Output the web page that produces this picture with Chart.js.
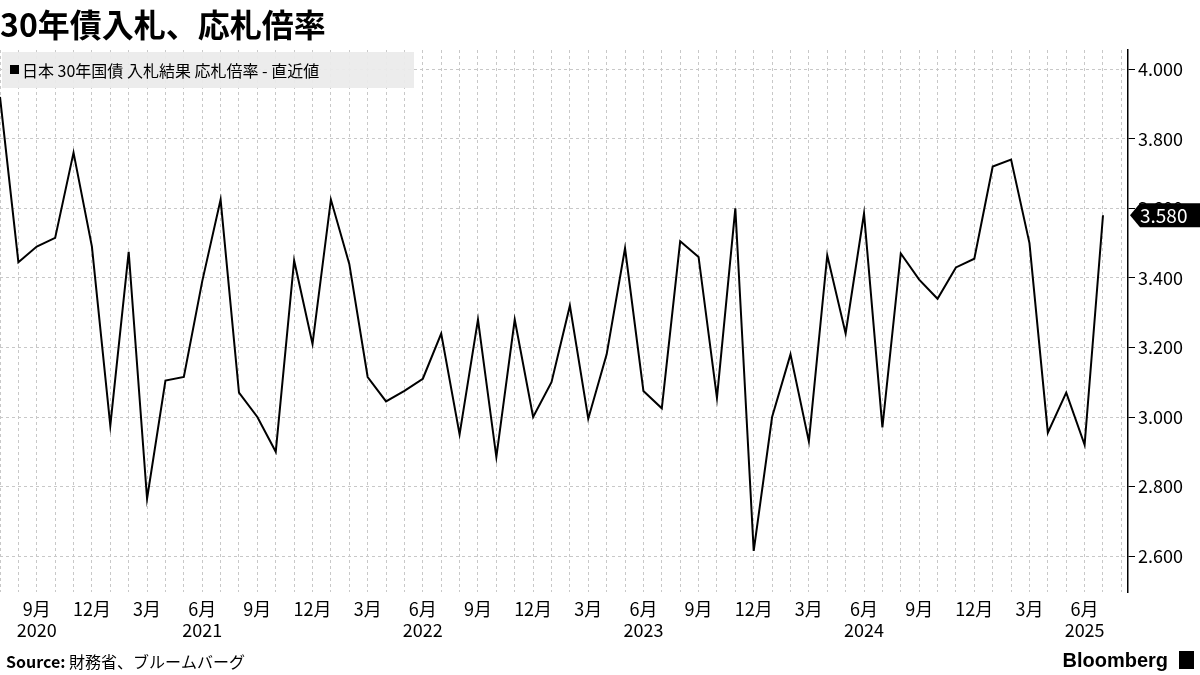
<!DOCTYPE html>
<html><head><meta charset="utf-8">
<script src="https://cdn.jsdelivr.net/npm/chart.js@4"></script>
<style>html,body{margin:0;padding:0;background:#fff}#w{width:1200px;height:675px}</style>
</head><body><div id="w"><canvas id="c"></canvas></div>
<script>
const startYear = 2020, startMonth = 7;
const bidToCover = [3.92,3.445,3.49,3.515,3.76,3.49,2.975,3.475,2.765,3.105,
3.115,3.39,3.625,3.07,3.0,2.90,3.45,3.21,3.625,3.44,
3.115,3.045,3.075,3.11,3.24,2.95,3.28,2.885,3.28,3.0,
3.10,3.32,2.995,3.18,3.485,3.075,3.025,3.505,3.46,3.055,
3.60,2.615,3.0,3.18,2.93,3.465,3.24,3.585,2.97,3.47,
3.395,3.34,3.43,3.455,3.72,3.74,3.5,2.955,3.07,2.92,3.58];
const yTicks = [2.6,2.8,3.0,3.2,3.4,3.6,3.8,4.0];
const title = '30年債入札、応札倍率';
const legendText = '日本 30年国債 入札結果 応札倍率 - 直近値';
const sourceText = '財務省、ブルームバーグ';
const FONT = '"Noto Sans CJK JP", "Noto Sans", sans-serif';

const pts = bidToCover.map((v,i)=>({x:i,y:v}));
const deco = {
  id:'deco',
  afterDraw(ch){
    const c=ch.ctx, a=ch.chartArea;
    c.save();
    c.fillStyle='#000'; c.textBaseline='middle';
    c.font='bold 32px '+FONT; c.textAlign='left';
    c.fillText(title,0,25);
    c.fillStyle='rgba(235,235,235,0.95)'; c.fillRect(2,52,412,36);
    c.fillStyle='#000'; c.fillRect(10,65,9,9);
    c.font='16px '+FONT; c.fillText(legendText,22,71);
    c.font='bold 16px '+FONT; c.fillText('Source:',6,662);
    const sw=c.measureText('Source: ').width;
    c.font='16px '+FONT; c.fillText(sourceText,6+sw,662);
    c.font='bold 20px "Liberation Sans", Arial, sans-serif'; c.textAlign='right';
    c.fillText('Bloomberg',1168,661);
    c.fillRect(1179,651,15,18);
    const y=ch.scales.y.getPixelForValue(bidToCover[bidToCover.length-1]);
    const x0=a.right+2;
    c.beginPath(); c.moveTo(x0,y); c.lineTo(x0+10,y-12); c.lineTo(1200,y-12); c.lineTo(1200,y+12); c.lineTo(x0+10,y+12); c.closePath();
    c.fillStyle='#000'; c.fill();
    c.fillStyle='#fff'; c.font='19px '+FONT; c.textAlign='left';
    c.fillText(bidToCover[bidToCover.length-1].toFixed(3),1140,y+1);
    c.restore();
  }
};
new Chart(document.getElementById('c'),{
  type:'line',
  data:{datasets:[{data:pts,borderColor:'#000',borderWidth:2,pointRadius:0,tension:0}]},
  options:{
    responsive:true,maintainAspectRatio:false,animation:false,
    layout:{padding:{top:50,left:0,right:0,bottom:0}},
    plugins:{legend:{display:false},tooltip:{enabled:false}},
    scales:{
      x:{type:'linear',min:0,max:61.36,
        afterFit(s){s.height=83;s.paddingLeft=0;s.paddingRight=0;},
        afterBuildTicks(s){const t=[];for(let i=0;i<=61;i++)t.push({value:i});s.ticks=t;},
        grid:{color:'#c8c8c8',drawTicks:false},
        border:{display:false,dash:[3,3]},
        ticks:{autoSkip:false,maxRotation:0,padding:6,color:'#000',font:{family:FONT,size:18},
          callback(v){const m=(startMonth-1+v)%12+1;const yr=startYear+Math.floor((startMonth-1+v)/12);
            if(m%3!==0)return '';
            if(v===2||m===6)return [m+'月',String(yr)];
            return [m+'月',''];}}
      },
      y:{position:'right',min:2.497,max:4.055,
        afterFit(s){s.width=72;},
        afterBuildTicks(s){s.ticks=yTicks.map(v=>({value:v}));},
        grid:{color:'#c8c8c8',drawTicks:true,tickLength:7,tickColor:'#000'},
        border:{display:true,color:'#000',width:1.5,dash:[3,3]},
        ticks:{padding:3,color:'#000',font:{family:FONT,size:18},callback:v=>v.toFixed(3)}
      }
    }
  },
  plugins:[deco]
});
</script></body></html>
